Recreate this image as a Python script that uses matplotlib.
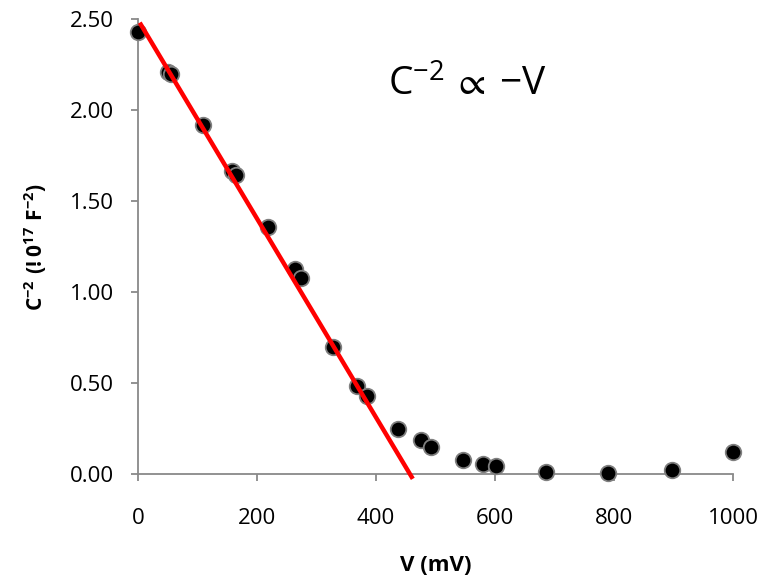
import matplotlib
matplotlib.use('Agg')
import matplotlib.pyplot as plt

# Mott-Schottky: C^-2 versus potential
v_mv = [0, 50, 56, 109, 158, 165, 218, 264, 274, 328, 368, 385,
        437, 475, 492, 547, 580, 601, 686, 790, 897, 1000]
c_inv2 = [2.43, 2.21, 2.20, 1.92, 1.665, 1.645, 1.357, 1.126, 1.077, 0.70, 0.484, 0.43,
          0.25, 0.19, 0.15, 0.08, 0.055, 0.045, 0.013, 0.006, 0.022, 0.12]

# linear part (depletion region)
fit_v = [5, 460]
fit_c = [2.47, -0.015]

x_ticks = [0, 200, 400, 600, 800, 1000]
y_ticks = [0.0, 0.5, 1.0, 1.5, 2.0, 2.5]

plt.rcParams['font.family'] = ['Open Sans', 'DejaVu Sans']
plt.rcParams['mathtext.fontset'] = 'custom'
plt.rcParams['mathtext.rm'] = 'Open Sans'
plt.rcParams['mathtext.bf'] = 'Open Sans:bold'
plt.rcParams['mathtext.fallback'] = 'stixsans'

fig = plt.figure(figsize=(7.66, 5.79), dpi=100)
ax = fig.add_axes([0.180, 0.181, 0.777, 0.786])

ax.scatter(v_mv, c_inv2, s=125, color='black', edgecolor='#7f7f7f',
           linewidth=1.3, zorder=3, clip_on=False)
ax.plot(fit_v, fit_c, color='#ff0000', linewidth=3.2, zorder=4, clip_on=False)

ax.set_xlim(0, 1000)
ax.set_ylim(0, 2.5)
ax.set_xticks(x_ticks)
ax.set_yticks(y_ticks)
ax.set_yticklabels([f'{t:.2f}' for t in y_ticks])

for side in ['top', 'right']:
    ax.spines[side].set_visible(False)
for side in ['left', 'bottom']:
    ax.spines[side].set_color('#898989')
    ax.spines[side].set_linewidth(1.3)

ax.tick_params(axis='x', direction='out', length=5, width=1.3, color='#898989',
               labelsize=16, pad=19)
ax.tick_params(axis='y', direction='out', length=5, width=1.3, color='#898989',
               labelsize=16, pad=12)

ax.set_xlabel('V (mV)', fontsize=16, fontweight='bold', labelpad=19)
ax.set_ylabel(r'$\mathbf{C^{-2}\ (!0^{17}\ F^{-2})}$', fontsize=15, labelpad=15)

ax.text(420, 2.08, r'$\mathregular{C^{-2}}\,\propto\,\mathregular{-V}$', fontsize=28,
        ha='left', va='baseline')

fig.savefig('out.png', dpi=100)
